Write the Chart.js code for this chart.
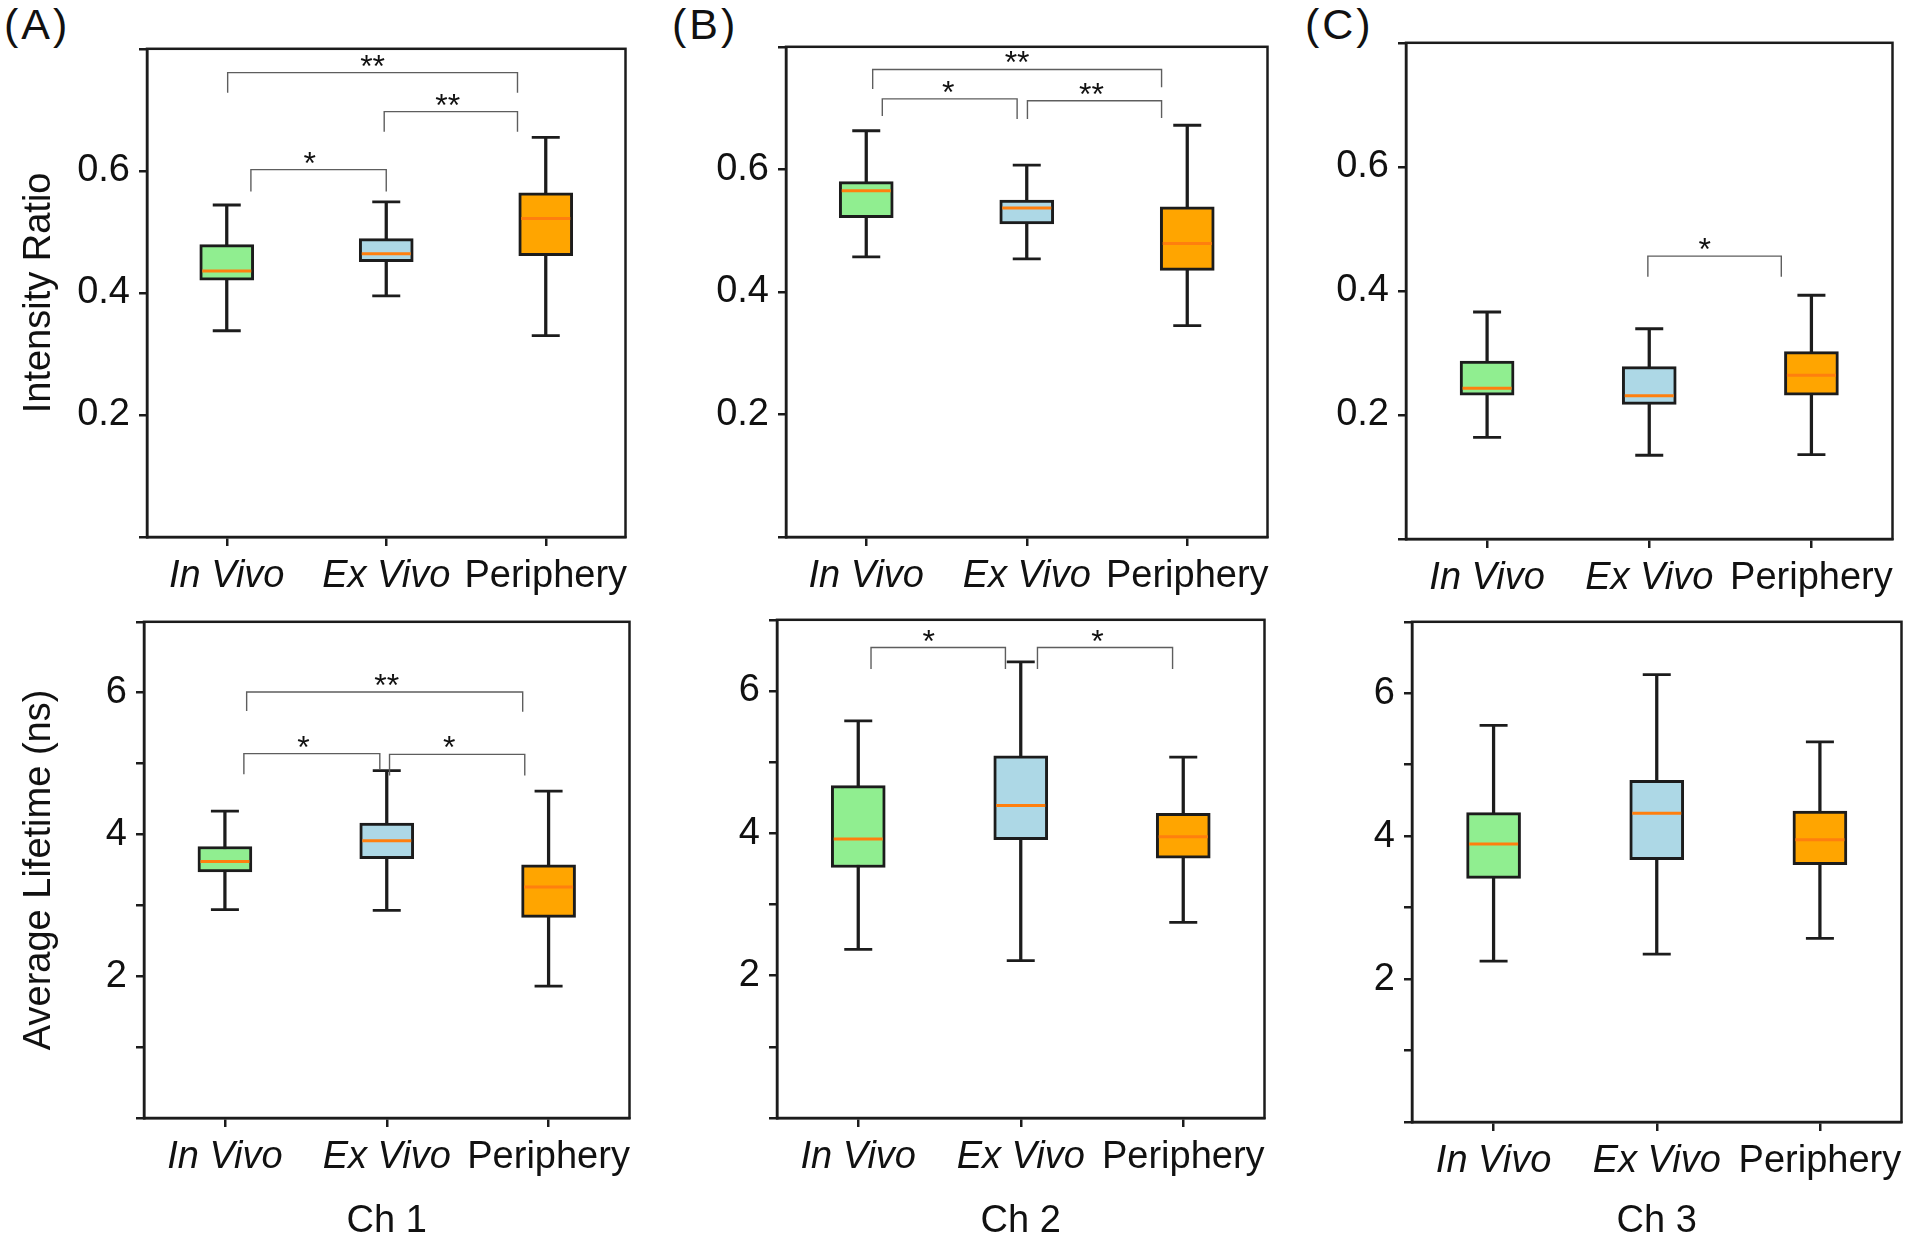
<!DOCTYPE html>
<html>
<head>
<meta charset="utf-8">
<script src="https://cdn.jsdelivr.net/npm/chart.js@4.4.1/dist/chart.umd.min.js"></script>
<style>
    body { margin: 0; background: #fff; width: 1928px; height: 1244px; position: relative; overflow: hidden; font-family: "Liberation Sans", Arial, sans-serif; }
    .tag { position: absolute; font-size: 43px; line-height: 1; letter-spacing: 3px; color: #111; }
</style>
</head>
<body>
<div class="tag" style="left:4px;top:3px">(A)</div>
<div class="tag" style="left:672px;top:3px">(B)</div>
<div class="tag" style="left:1305px;top:3px">(C)</div>
<script>
const categories = ['In Vivo', 'Ex Vivo', 'Periphery'];
const boxColors = ['#90ee90', '#add8e6', '#ffa500'];

// [whisker low, Q1, median, Q3, whisker high] for each category
const ratioCh1 = [[0.338, 0.421, 0.436, 0.479, 0.544], [0.395, 0.451, 0.464, 0.489, 0.549], [0.330, 0.461, 0.522, 0.564, 0.655]];
const ratioCh2 = [[0.457, 0.521, 0.565, 0.580, 0.663], [0.454, 0.511, 0.537, 0.550, 0.607], [0.345, 0.435, 0.479, 0.539, 0.672]];
const ratioCh3 = [[0.164, 0.232, 0.243, 0.287, 0.366], [0.135, 0.217, 0.231, 0.278, 0.339], [0.136, 0.232, 0.264, 0.302, 0.393]];
const lifeCh1 = [[2.94, 3.47, 3.62, 3.83, 4.33], [2.93, 3.66, 3.91, 4.16, 4.90], [1.86, 2.83, 3.26, 3.57, 4.61]];
const lifeCh2 = [[2.37, 3.52, 3.92, 4.67, 5.58], [2.21, 3.91, 4.39, 5.09, 6.41], [2.75, 3.65, 3.95, 4.28, 5.07]];
const lifeCh3 = [[2.25, 3.41, 3.89, 4.33, 5.55], [2.35, 3.67, 4.32, 4.78, 6.26], [2.57, 3.60, 3.95, 4.35, 5.32]];

// significance brackets: [from, to, level, left leg end, right leg end, mark, mark position]
const ratioSig1 = [[-0.16, 1.96, 0.761, 0.728, 0.728, '**', 0.9], [0.01, 1.0, 0.602, 0.566, 0.566, '*', 0.44], [0.985, 1.96, 0.697, 0.664, 0.664, '**', 1.45]];
const ratioSig2 = [[-0.12, 1.98, 0.763, 0.731, 0.734, '**', 0.93], [-0.05, 0.93, 0.715, 0.687, 0.682, '*', 0.43], [1.005, 1.98, 0.712, 0.682, 0.684, '**', 1.47]];
const ratioSig3 = [[0.99, 1.95, 0.456, 0.423, 0.423, '*', 1.40]];
const lifeSig1 = [[-0.01, 1.98, 6.01, 5.74, 5.73, '**', 1.0], [-0.03, 0.95, 5.14, 4.85, 4.92, '*', 0.40], [1.02, 1.995, 5.13, 4.83, 4.83, '*', 1.45]];
const lifeSig2 = [[-0.075, 0.89, 6.61, 6.31, 6.31, '*', 0.34], [1.12, 2.09, 6.61, 6.31, 6.31, '*', 1.55]];
const lifeSig3 = [];

const ratioTicks = [0, 0.2, 0.4, 0.6, 0.8];
const ratioLabels = ['', '0.2', '0.4', '0.6', ''];
const lifeTicks = [0, 1, 2, 3, 4, 5, 6, 7];
const lifeLabels = ['', '', '2', '', '4', '', '6', ''];

Chart.defaults.font.family = '"Liberation Sans", Arial, sans-serif';
Chart.defaults.color = '#111';

const ink = '#1c1c1c';

const panels = [
    { data: ratioCh1, sig: ratioSig1, ticks: ratioTicks, labels: ratioLabels, area: [147, 48, 641, 537], yTitle: 'Intensity Ratio' },
    { data: ratioCh2, sig: ratioSig2, ticks: ratioTicks, labels: ratioLabels, area: [786, 46, 1283, 537] },
    { data: ratioCh3, sig: ratioSig3, ticks: ratioTicks, labels: ratioLabels, area: [1406, 42, 1908, 539] },
    { data: lifeCh1, sig: lifeSig1, ticks: lifeTicks, labels: lifeLabels, area: [144, 621, 645, 1118], yTitle: 'Average Lifetime (ns)', xTitle: 'Ch 1' },
    { data: lifeCh2, sig: lifeSig2, ticks: lifeTicks, labels: lifeLabels, area: [777, 619, 1280, 1118], xTitle: 'Ch 2' },
    { data: lifeCh3, sig: lifeSig3, ticks: lifeTicks, labels: lifeLabels, area: [1412, 621, 1917, 1122], xTitle: 'Ch 3' }
];

const framePlugin = {
    id: 'frame',
    afterDatasetsDraw(chart) {
        const { ctx, chartArea: a } = chart;
        ctx.save();
        ctx.strokeStyle = ink;
        ctx.lineWidth = 2.5;
        ctx.strokeRect(a.left, a.top, a.right - a.left, a.bottom - a.top);
        ctx.restore();
    }
};

function drawPanel(p) {
    const [L, T, R, B] = p.area;
    const yw = p.yTitle ? L : 110;
    // the y axis keeps room above the plot for its top tick label
    const topGap = 31, padRight = 12;
    const xh = p.xTitle ? 1244 - B : 64;
    const left = L - yw, top = T - topGap;
    const w = R - left + padRight, h = B + xh - top;

    const cv = document.createElement('canvas');
    cv.width = w;
    cv.height = h;
    cv.style.cssText = `position:absolute;left:${left}px;top:${top}px;width:${w}px;height:${h}px`;
    document.body.appendChild(cv);

    const marks = {
        id: 'marks',
        afterDatasetsDraw(chart) {
            const { ctx, scales } = chart;
            ctx.save();
            ctx.fillStyle = '#111';
            ctx.font = '32px "Liberation Sans", Arial, sans-serif';
            ctx.textAlign = 'center';
            ctx.textBaseline = 'alphabetic';
            p.sig.forEach(s => {
                ctx.fillText(s[5], scales.xb.getPixelForValue(s[6]), scales.y.getPixelForValue(s[2]) + 4);
            });
            ctx.restore();
        }
    };

    const brackets = p.sig.map(s => ({
        type: 'line',
        xAxisID: 'xb',
        data: [{ x: s[0], y: s[3] }, { x: s[0], y: s[2] }, { x: s[1], y: s[2] }, { x: s[1], y: s[4] }],
        borderColor: '#5e5e5e',
        borderWidth: 1.4,
        pointRadius: 0,
        fill: false,
        order: 0
    }));

    new Chart(cv, {
        type: 'bar',
        data: {
            labels: categories,
            datasets: [
                {
                    type: 'bar',
                    data: p.data.map(r => [r[0], r[4]]),
                    backgroundColor: ink,
                    barThickness: 2.6,
                    grouped: false,
                    order: 5
                },
                {
                    type: 'bar',
                    data: p.data.map(r => [r[1], r[3]]),
                    backgroundColor: boxColors,
                    borderColor: ink,
                    borderWidth: 3,
                    borderSkipped: false,
                    barThickness: 54,
                    grouped: false,
                    order: 4
                },
                {
                    type: 'line',
                    data: p.data.map(r => r[0]),
                    showLine: false,
                    pointStyle: 'line',
                    pointRadius: 14,
                    pointBorderWidth: 2.8,
                    pointBorderColor: ink,
                    order: 3
                },
                {
                    type: 'line',
                    data: p.data.map(r => r[4]),
                    showLine: false,
                    pointStyle: 'line',
                    pointRadius: 14,
                    pointBorderWidth: 2.8,
                    pointBorderColor: ink,
                    order: 3
                },
                {
                    type: 'line',
                    data: p.data.map(r => r[2]),
                    showLine: false,
                    pointStyle: 'line',
                    pointRadius: 24.5,
                    pointBorderWidth: 3,
                    pointBorderColor: '#ff7f0e',
                    order: 2
                },
                ...brackets
            ]
        },
        options: {
            responsive: false,
            animation: false,
            devicePixelRatio: 1,
            layout: { padding: { top: 0, right: padRight, left: 0, bottom: 0 } },
            plugins: { legend: { display: false }, tooltip: { enabled: false } },
            scales: {
                x: {
                    type: 'category',
                    offset: true,
                    grid: { offset: false, drawOnChartArea: false, tickLength: 9, color: ink, lineWidth: 2.5 },
                    border: { color: ink, width: 2.5 },
                    ticks: {
                        autoSkip: false,
                        maxRotation: 0,
                        minRotation: 0,
                        padding: 8,
                        color: '#111',
                        font: c => ({ size: 38, style: c.index < 2 ? 'italic' : 'normal' })
                    },
                    title: p.xTitle
                        ? { display: true, text: p.xTitle, color: '#111', font: { size: 38 }, padding: { top: 0, bottom: 0 } }
                        : { display: false },
                    afterFit: s => { s.height = xh; }
                },
                xb: { type: 'linear', display: false, min: -0.5, max: 2.5 },
                y: {
                    min: p.ticks[0],
                    max: p.ticks[p.ticks.length - 1],
                    afterBuildTicks: s => { s.ticks = p.ticks.map(v => ({ value: v })); },
                    grid: { drawOnChartArea: false, tickLength: 8, color: ink, lineWidth: 2.5 },
                    border: { color: ink, width: 2.5 },
                    ticks: {
                        padding: 9,
                        color: '#111',
                        font: { size: 38 },
                        callback: (v, i) => p.labels[i]
                    },
                    title: p.yTitle
                        ? { display: true, text: p.yTitle, color: '#111', font: { size: 38 }, padding: { top: 17, bottom: 0 } }
                        : { display: false },
                    afterFit: s => { s.width = yw; }
                }
            }
        },
        plugins: [framePlugin, marks]
    });
}

panels.forEach(drawPanel);
</script>
</body>
</html>
